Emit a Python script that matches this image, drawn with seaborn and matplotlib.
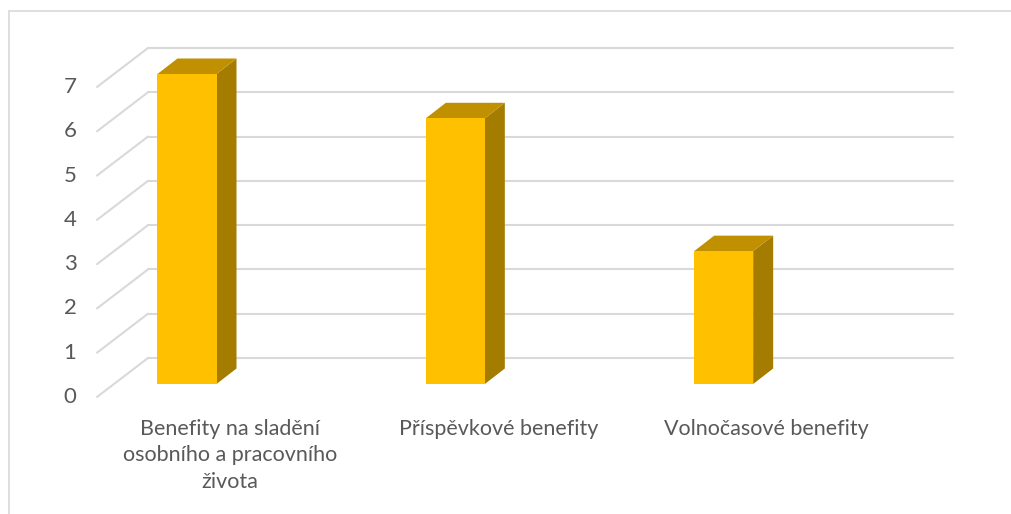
import matplotlib
matplotlib.use("Agg")
import matplotlib.pyplot as plt
from matplotlib.patches import Polygon
from matplotlib.lines import Line2D
from matplotlib.transforms import offset_copy
import pandas as pd
import seaborn as sns

# %% DATA ─────────────────────────────────────────────────────────────────
categories = ["Benefity na sladění\nosobního a pracovního\nživota",
              "Příspěvkové benefity",
              "Volnočasové benefity"]
values = [7, 6, 3]
y_ticks = [0, 1, 2, 3, 4, 5, 6, 7]

# %% STYLE ────────────────────────────────────────────────────────────────
FRONT, TOP, SIDE = "#FFC000", "#C09000", "#A47D00"
GRID, TEXT = "#D9D9D9", "#595959"
W, H, DPI = 1011, 514, 100
AX_L, AX_B, AX_W, AX_H = 114, 130, 805, 310      # axes box in pixels (bar plane)
BAR_W, BAR_SHIFT = 0.22, -0.228                  # bar width / shift in category units
BACK = (34, 26)         # bar plane -> back wall, pixels
FRONT_OFF = (-17, -13)  # bar plane -> front edge, pixels
DEPTH = (20, 15.5)      # bar depth, pixels

sns.set_theme(style="white")
plt.rcParams["font.family"] = ["Lato", "DejaVu Sans"]

fig = plt.figure(figsize=(W / DPI, H / DPI), dpi=DPI)
ax = fig.add_axes([AX_L / W, AX_B / H, AX_W / W, AX_H / H])

df = pd.DataFrame({"cat": categories, "val": values})
sns.barplot(data=df, x="cat", y="val", color=FRONT, saturation=1,
            width=BAR_W, ax=ax, zorder=3)
ax.set_xlim(-0.5, len(categories) - 0.5)
ax.set_ylim(0, max(y_ticks))
ax.set_axis_off()

sx = AX_W / len(categories)      # pixels per category unit
sy = AX_H / max(y_ticks)         # pixels per value unit
bdx, bdy = BACK[0] / sx, BACK[1] / sy
fdx, fdy = FRONT_OFF[0] / sx, FRONT_OFF[1] / sy
ddx, ddy = DEPTH[0] / sx, DEPTH[1] / sy

# back wall gridlines + floor-side diagonals
x0, x1 = -0.5, len(categories) - 0.5
for v in y_ticks:
    ax.add_line(Line2D([x0 + bdx, x1 + bdx], [v + bdy, v + bdy], color=GRID,
                       lw=1.5, zorder=0, clip_on=False))
    ax.add_line(Line2D([x0 + fdx, x0 + bdx], [v + fdy, v + bdy], color=GRID,
                       lw=1.5, zorder=0, clip_on=False))

# 3D look: shift front faces, add side and top faces
for p in ax.patches[:len(values)]:
    p.set_x(p.get_x() + BAR_SHIFT)
    p.set_edgecolor("none")
    x, w, h = p.get_x(), p.get_width(), p.get_height()
    side = [(x + w, 0), (x + w, h), (x + w + ddx, h + ddy), (x + w + ddx, ddy)]
    top = [(x, h), (x + w, h), (x + w + ddx, h + ddy), (x + ddx, h + ddy)]
    ax.add_patch(Polygon(side, closed=True, fc=SIDE, ec="none", zorder=2, clip_on=False))
    ax.add_patch(Polygon(top, closed=True, fc=TOP, ec="none", zorder=2, clip_on=False))

# y tick labels on the front edge
ytr = offset_copy(ax.transData, fig=fig, x=FRONT_OFF[0] - 27, y=FRONT_OFF[1], units="dots")
for v in y_ticks:
    ax.text(x0, v, str(v), transform=ytr, ha="center", va="center",
            fontsize=16, color=TEXT, clip_on=False)

# category labels under the floor
xtr = offset_copy(ax.transData, fig=fig, x=-18, y=-35, units="dots")
for i, c in enumerate(categories):
    ax.text(i, 0, c, transform=xtr, ha="center", va="top", fontsize=15.5,
            color=TEXT, linespacing=1.4, clip_on=False)

# chart area border (only top and left visible)
fig.add_artist(Line2D([9 / W, 1.0], [1 - 11 / H, 1 - 11 / H], color=GRID,
                      lw=1.2, transform=fig.transFigure))
fig.add_artist(Line2D([9 / W, 9 / W], [0.0, 1 - 11 / H], color=GRID,
                      lw=1.2, transform=fig.transFigure))

fig.savefig("out.png", dpi=DPI)
